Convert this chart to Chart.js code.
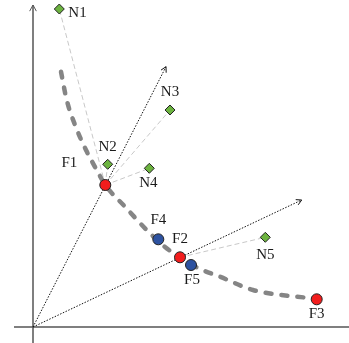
<!DOCTYPE html>
<html lang="en">
  <head>
    <meta charset="utf-8" />
    <title>Fronts and neighbours</title>
    <style>
      * {
        margin: 0;
        padding: 0;
      }
      body {
        background: white;
      }
      .chartBox {
        width: 349px;
        height: 343px;
      }
    </style>
  </head>
  <body>
    <div class="chartBox">
      <canvas id="myChart"></canvas>
    </div>

    <script src="https://cdn.jsdelivr.net/npm/chart.js"></script>

    <script>
      // front points (red = on the front, blue = extra)
      const frontNames = ["F1", "F2", "F3"];
      const frontX = [7.23, 14.7, 28.37];
      const frontY = [14.2, 6.97, 2.77];

      const extraNames = ["F4", "F5"];
      const extraX = [12.53, 15.8];
      const extraY = [8.77, 6.2];

      // neighbour points (green diamonds)
      const neighNames = ["N1", "N2", "N3", "N4", "N5"];
      const neighX = [2.63, 7.47, 13.7, 11.63, 23.23];
      const neighY = [31.8, 16.27, 21.7, 15.87, 8.97];
      // which front point each neighbour is tied to
      const neighLink = [0, 0, 0, 0, 1];

      // the thick dashed curve
      const curveX = [2.8, 3.37, 4.27, 5.3, 6.37, 7.23, 9.2, 11.37, 13.2, 14.7, 16.5, 18.7, 22.0, 25.7, 29.5];
      const curveY = [25.53, 22.7, 20.03, 17.7, 15.7, 14.2, 12.03, 9.7, 8.0, 6.97, 5.9, 5.03, 3.7, 3.1, 2.77];

      // rays from the origin
      const rayX = [13.3, 26.87];
      const rayY = [26.03, 12.7];

      // where each label sits around its point
      const labelPlace = {
        N1: { dx: 9, dy: 4, align: "left" },
        N2: { dx: 0, dy: -17, align: "center" },
        N3: { dx: 0, dy: -18, align: "center" },
        N4: { dx: -1, dy: 15, align: "center" },
        N5: { dx: 0, dy: 18, align: "center" },
        F1: { dx: -36, dy: -22, align: "center" },
        F2: { dx: 0, dy: -18, align: "center" },
        F3: { dx: 0, dy: 15, align: "center" },
        F4: { dx: 0, dy: -19, align: "center" },
        F5: { dx: 1, dy: 15, align: "center" },
      };

      const pts = (xs, ys) => xs.map((x, i) => ({ x, y: ys[i] }));

      const datasets = [];

      // markers on top
      datasets.push({
        label: "front",
        data: pts(frontX, frontY),
        pointStyle: "circle",
        pointRadius: 5.5,
        backgroundColor: "#f21d1d",
        borderColor: "#222",
        borderWidth: 1,
        showLine: false,
        order: 0,
      });
      datasets.push({
        label: "extra",
        data: pts(extraX, extraY),
        pointStyle: "circle",
        pointRadius: 5.5,
        backgroundColor: "#2d52a0",
        borderColor: "#222",
        borderWidth: 1,
        showLine: false,
        order: 0,
      });
      datasets.push({
        label: "neigh",
        data: pts(neighX, neighY),
        pointStyle: "rectRot",
        pointRadius: 5,
        backgroundColor: "#6cb33f",
        borderColor: "#222",
        borderWidth: 1,
        showLine: false,
        order: 0,
      });

      // curve
      datasets.push({
        label: "curve",
        data: pts(curveX, curveY),
        showLine: true,
        borderColor: "#858585",
        borderWidth: 4.5,
        borderDash: [6, 10],
        borderCapStyle: "round",
        cubicInterpolationMode: "monotone",
        pointRadius: 0,
        order: 2,
      });

      // light dashed links
      neighX.forEach((x, i) => {
        const f = neighLink[i];
        datasets.push({
          label: "link",
          data: [
            { x: frontX[f], y: frontY[f] },
            { x, y: neighY[i] },
          ],
          showLine: true,
          borderColor: "#c8c8c8",
          borderWidth: 1,
          borderDash: [5, 3],
          pointRadius: 0,
          order: 3,
        });
      });

      // dotted rays
      rayX.forEach((x, i) => {
        datasets.push({
          label: "ray",
          data: [
            { x: 0, y: 0 },
            { x, y: rayY[i] },
          ],
          showLine: true,
          borderColor: "#111",
          borderWidth: 1,
          borderDash: [1.5, 1.5],
          pointRadius: 0,
          order: 4,
        });
      });

      function chevron(ctx, x, y, ang, size) {
        ctx.beginPath();
        ctx.moveTo(x - size * Math.cos(ang - 0.5), y - size * Math.sin(ang - 0.5));
        ctx.lineTo(x, y);
        ctx.lineTo(x - size * Math.cos(ang + 0.5), y - size * Math.sin(ang + 0.5));
        ctx.stroke();
      }

      // axes + arrow heads
      const axesPlugin = {
        id: "axesPlugin",
        beforeDatasetsDraw(chart) {
          const { ctx, scales: { x, y } } = chart;
          const ox = x.getPixelForValue(0);
          const oy = y.getPixelForValue(0);
          ctx.save();
          ctx.strokeStyle = "#555";
          ctx.lineWidth = 1.5;
          ctx.beginPath();
          ctx.moveTo(x.getPixelForValue(-1.9), oy);
          ctx.lineTo(x.getPixelForValue(x.max), oy);
          ctx.moveTo(ox, y.getPixelForValue(y.min));
          ctx.lineTo(ox, y.getPixelForValue(32.2));
          ctx.stroke();
          ctx.lineWidth = 1;
          chevron(ctx, ox, y.getPixelForValue(32.2), -Math.PI / 2, 7);
          ctx.restore();
        },
        afterDatasetsDraw(chart) {
          const { ctx, scales: { x, y } } = chart;
          ctx.save();
          // arrows at the ends of rays
          ctx.strokeStyle = "#111";
          ctx.lineWidth = 1;
          rayX.forEach((rx, i) => {
            const px = x.getPixelForValue(rx);
            const py = y.getPixelForValue(rayY[i]);
            const ang = Math.atan2(py - y.getPixelForValue(0), px - x.getPixelForValue(0));
            chevron(ctx, px, py, ang, 6);
          });
          // labels
          ctx.font = "15px 'Liberation Serif', 'DejaVu Serif', serif";
          ctx.fillStyle = "#1a1a1a";
          ctx.textBaseline = "middle";
          const put = (names, xs, ys) => {
            names.forEach((n, i) => {
              const p = labelPlace[n];
              ctx.textAlign = p.align;
              ctx.fillText(n, x.getPixelForValue(xs[i]) + p.dx, y.getPixelForValue(ys[i]) + p.dy);
            });
          };
          put(frontNames, frontX, frontY);
          put(extraNames, extraX, extraY);
          put(neighNames, neighX, neighY);
          ctx.restore();
        },
      };

      const config = {
        type: "scatter",
        data: { datasets },
        options: {
          responsive: true,
          maintainAspectRatio: false,
          animation: false,
          layout: { padding: 0, autoPadding: false },
          plugins: {
            legend: { display: false },
            tooltip: { enabled: false },
          },
          scales: {
            x: { type: "linear", min: -3.3, max: 31.6, display: false },
            y: { type: "linear", min: -1.6, max: 32.7, display: false },
          },
        },
        plugins: [axesPlugin],
      };

      const myChart = new Chart(document.getElementById("myChart"), config);
    </script>
  </body>
</html>
